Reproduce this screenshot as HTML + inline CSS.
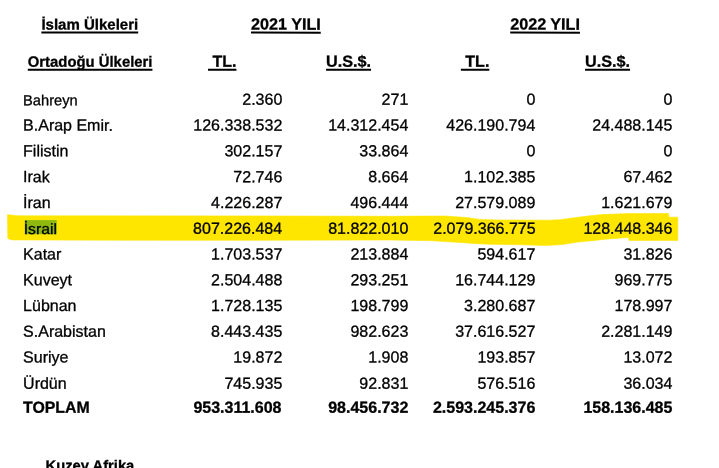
<!DOCTYPE html>
<html><head><meta charset="utf-8"><style>
html,body{margin:0;padding:0;background:#fff;}
body{width:719px;height:468px;position:relative;overflow:hidden;font-family:"Liberation Sans",sans-serif;color:#000;}
.t{position:absolute;left:0;top:0;white-space:pre;font-size:16px;line-height:20px;transform-origin:0 0;}
.u{text-decoration:underline;text-decoration-thickness:1.5px;text-underline-offset:2.0px;text-decoration-skip-ink:none;}
.b{font-weight:bold;}
.t{-webkit-text-stroke:0.3px #000;}
</style></head><body>
<svg style="position:absolute;left:0;top:0" width="719" height="468" viewBox="0 0 719 468">
<path d="M7.5,214.7 L18,215.8 L240,215.9 L390,216.3 L425,216.1 L445,216 L466,217.5 L480,219.4 L500,220 L549,220.2 L560,219.7 L574,217.8 L588,216 L602,214.6 L629,213.6 L668.5,213.5 L669,217.2 L677.8,217.2 L677.8,240.4 L629,240.4 L628.6,237.5 L605,239.2 L595,240.4 L578,242.1 L562,244.6 L545,245.6 L523,244.8 L490,244.3 L478,243.8 L460,242.5 L432,240.7 L390,240 L240,240.3 L120,240.2 L12,239.9 L7.8,238.6 Z" fill="#ffe600" stroke="#ffe600" stroke-width="0.6" stroke-linejoin="round"/>
<rect x="24.7" y="220.1" width="32" height="14.2" fill="#90b910"/>
</svg>

<div class="t b u" style="font-size:15px;transform:translate(41.40px,14.52px) scaleX(1.0010) rotate(0.05deg)">İslam Ülkeleri</div>
<div class="t b u" style="transform:translate(251.00px,14.58px) scaleX(1.0099) rotate(0.05deg)">2021 YILI</div>
<div class="t b u" style="transform:translate(510.20px,14.58px) scaleX(1.0099) rotate(0.05deg)">2022 YILI</div>
<div class="t b u" style="font-size:15px;transform:translate(27.80px,51.72px) scaleX(0.9904) rotate(0.05deg)">Ortadoğu Ülkeleri</div>
<div class="t b u" style="transform:translate(208.00px,51.78px) scaleX(1.0000) rotate(0.05deg)"> TL.</div>
<div class="t b u" style="transform:translate(326.10px,51.78px) scaleX(1.0113) rotate(0.05deg)">U.S.$.</div>
<div class="t b u" style="transform:translate(460.90px,51.78px) scaleX(1.0000) rotate(0.05deg)"> TL.</div>
<div class="t b u" style="transform:translate(585.10px,51.78px) scaleX(1.0113) rotate(0.05deg)">U.S.$.</div>
<div class="t" style="font-size:14.667px;transform:translate(23.10px,90.24px) scaleX(1.0000) rotate(0.05deg)">Bahreyn</div>
<div class="t" style="transform:translate(242.26px,89.78px) scaleX(1.0000) rotate(0.05deg)">2.360</div>
<div class="t" style="transform:translate(381.60px,89.78px) scaleX(1.0000) rotate(0.05deg)">271</div>
<div class="t" style="transform:translate(526.40px,89.78px) scaleX(1.0000) rotate(0.05deg)">0</div>
<div class="t" style="transform:translate(663.50px,89.78px) scaleX(1.0000) rotate(0.05deg)">0</div>
<div class="t" style="transform:translate(23.10px,115.56px) scaleX(1.0000) rotate(0.05deg)">B.Arap Emir.</div>
<div class="t" style="transform:translate(193.32px,115.56px) scaleX(1.0000) rotate(0.05deg)">126.338.532</div>
<div class="t" style="transform:translate(328.22px,115.56px) scaleX(1.0000) rotate(0.05deg)">14.312.454</div>
<div class="t" style="transform:translate(446.32px,115.56px) scaleX(1.0000) rotate(0.05deg)">426.190.794</div>
<div class="t" style="transform:translate(592.32px,115.56px) scaleX(1.0000) rotate(0.05deg)">24.488.145</div>
<div class="t" style="transform:translate(23.10px,141.34px) scaleX(1.0000) rotate(0.05deg)">Filistin</div>
<div class="t" style="transform:translate(224.46px,141.34px) scaleX(1.0000) rotate(0.05deg)">302.157</div>
<div class="t" style="transform:translate(359.36px,141.34px) scaleX(1.0000) rotate(0.05deg)">33.864</div>
<div class="t" style="transform:translate(526.40px,141.34px) scaleX(1.0000) rotate(0.05deg)">0</div>
<div class="t" style="transform:translate(663.50px,141.34px) scaleX(1.0000) rotate(0.05deg)">0</div>
<div class="t" style="transform:translate(23.10px,167.12px) scaleX(1.0000) rotate(0.05deg)">Irak</div>
<div class="t" style="transform:translate(233.36px,167.12px) scaleX(1.0000) rotate(0.05deg)">72.746</div>
<div class="t" style="transform:translate(368.26px,167.12px) scaleX(1.0000) rotate(0.05deg)">8.664</div>
<div class="t" style="transform:translate(464.12px,167.12px) scaleX(1.0000) rotate(0.05deg)">1.102.385</div>
<div class="t" style="transform:translate(623.46px,167.12px) scaleX(1.0000) rotate(0.05deg)">67.462</div>
<div class="t" style="transform:translate(23.10px,192.90px) scaleX(1.0000) rotate(0.05deg)">İran</div>
<div class="t" style="transform:translate(211.12px,192.90px) scaleX(1.0000) rotate(0.05deg)">4.226.287</div>
<div class="t" style="transform:translate(350.46px,192.90px) scaleX(1.0000) rotate(0.05deg)">496.444</div>
<div class="t" style="transform:translate(455.22px,192.90px) scaleX(1.0000) rotate(0.05deg)">27.579.089</div>
<div class="t" style="transform:translate(601.22px,192.90px) scaleX(1.0000) rotate(0.05deg)">1.621.679</div>
<div class="t" style="font-size:15px;transform:translate(23.70px,219.02px) scaleX(1.0500) rotate(0.05deg)">İsrail</div>
<div class="t" style="transform:translate(193.12px,218.68px) scaleX(1.0000) rotate(0.05deg)">807.226.484</div>
<div class="t" style="transform:translate(328.22px,218.68px) scaleX(1.0000) rotate(0.05deg)">81.822.010</div>
<div class="t" style="transform:translate(433.28px,218.68px) scaleX(1.0000) rotate(0.05deg)">2.079.366.775</div>
<div class="t" style="transform:translate(583.42px,218.68px) scaleX(1.0000) rotate(0.05deg)">128.448.346</div>
<div class="t" style="transform:translate(23.10px,244.46px) scaleX(1.0000) rotate(0.05deg)">Katar</div>
<div class="t" style="transform:translate(211.12px,244.46px) scaleX(1.0000) rotate(0.05deg)">1.703.537</div>
<div class="t" style="transform:translate(350.46px,244.46px) scaleX(1.0000) rotate(0.05deg)">213.884</div>
<div class="t" style="transform:translate(477.46px,244.46px) scaleX(1.0000) rotate(0.05deg)">594.617</div>
<div class="t" style="transform:translate(623.46px,244.46px) scaleX(1.0000) rotate(0.05deg)">31.826</div>
<div class="t" style="transform:translate(23.10px,270.24px) scaleX(1.0000) rotate(0.05deg)">Kuveyt</div>
<div class="t" style="transform:translate(211.12px,270.24px) scaleX(1.0000) rotate(0.05deg)">2.504.488</div>
<div class="t" style="transform:translate(350.46px,270.24px) scaleX(1.0000) rotate(0.05deg)">293.251</div>
<div class="t" style="transform:translate(455.22px,270.24px) scaleX(1.0000) rotate(0.05deg)">16.744.129</div>
<div class="t" style="transform:translate(614.56px,270.24px) scaleX(1.0000) rotate(0.05deg)">969.775</div>
<div class="t" style="transform:translate(23.10px,296.02px) scaleX(1.0000) rotate(0.05deg)">Lübnan</div>
<div class="t" style="transform:translate(211.12px,296.02px) scaleX(1.0000) rotate(0.05deg)">1.728.135</div>
<div class="t" style="transform:translate(350.46px,296.02px) scaleX(1.0000) rotate(0.05deg)">198.799</div>
<div class="t" style="transform:translate(464.12px,296.02px) scaleX(1.0000) rotate(0.05deg)">3.280.687</div>
<div class="t" style="transform:translate(614.56px,296.02px) scaleX(1.0000) rotate(0.05deg)">178.997</div>
<div class="t" style="transform:translate(23.10px,321.80px) scaleX(1.0000) rotate(0.05deg)">S.Arabistan</div>
<div class="t" style="transform:translate(211.12px,321.80px) scaleX(1.0000) rotate(0.05deg)">8.443.435</div>
<div class="t" style="transform:translate(350.46px,321.80px) scaleX(1.0000) rotate(0.05deg)">982.623</div>
<div class="t" style="transform:translate(455.22px,321.80px) scaleX(1.0000) rotate(0.05deg)">37.616.527</div>
<div class="t" style="transform:translate(601.22px,321.80px) scaleX(1.0000) rotate(0.05deg)">2.281.149</div>
<div class="t" style="transform:translate(23.10px,347.58px) scaleX(1.0000) rotate(0.05deg)">Suriye</div>
<div class="t" style="transform:translate(233.36px,347.58px) scaleX(1.0000) rotate(0.05deg)">19.872</div>
<div class="t" style="transform:translate(368.26px,347.58px) scaleX(1.0000) rotate(0.05deg)">1.908</div>
<div class="t" style="transform:translate(477.46px,347.58px) scaleX(1.0000) rotate(0.05deg)">193.857</div>
<div class="t" style="transform:translate(623.46px,347.58px) scaleX(1.0000) rotate(0.05deg)">13.072</div>
<div class="t" style="transform:translate(23.10px,373.76px) scaleX(1.0000) rotate(0.05deg)">Ürdün</div>
<div class="t" style="transform:translate(224.46px,373.76px) scaleX(1.0000) rotate(0.05deg)">745.935</div>
<div class="t" style="transform:translate(359.36px,373.76px) scaleX(1.0000) rotate(0.05deg)">92.831</div>
<div class="t" style="transform:translate(477.46px,373.76px) scaleX(1.0000) rotate(0.05deg)">576.516</div>
<div class="t" style="transform:translate(623.46px,373.76px) scaleX(1.0000) rotate(0.05deg)">36.034</div>
<div class="t b" style="transform:translate(23.10px,397.78px) scaleX(0.9900) rotate(0.05deg)">TOPLAM</div>
<div class="t b" style="transform:translate(193.40px,397.78px) scaleX(1.0000) rotate(0.05deg)">953.311.608</div>
<div class="t b" style="transform:translate(328.22px,397.78px) scaleX(1.0000) rotate(0.05deg)">98.456.732</div>
<div class="t b" style="transform:translate(432.98px,397.78px) scaleX(1.0000) rotate(0.05deg)">2.593.245.376</div>
<div class="t b" style="transform:translate(583.42px,397.78px) scaleX(1.0000) rotate(0.05deg)">158.136.485</div>
<div class="t b" style="font-size:14.667px;transform:translate(45.60px,455.44px) scaleX(1.0053) rotate(0.05deg)">Kuzey Afrika</div>
</body></html>
